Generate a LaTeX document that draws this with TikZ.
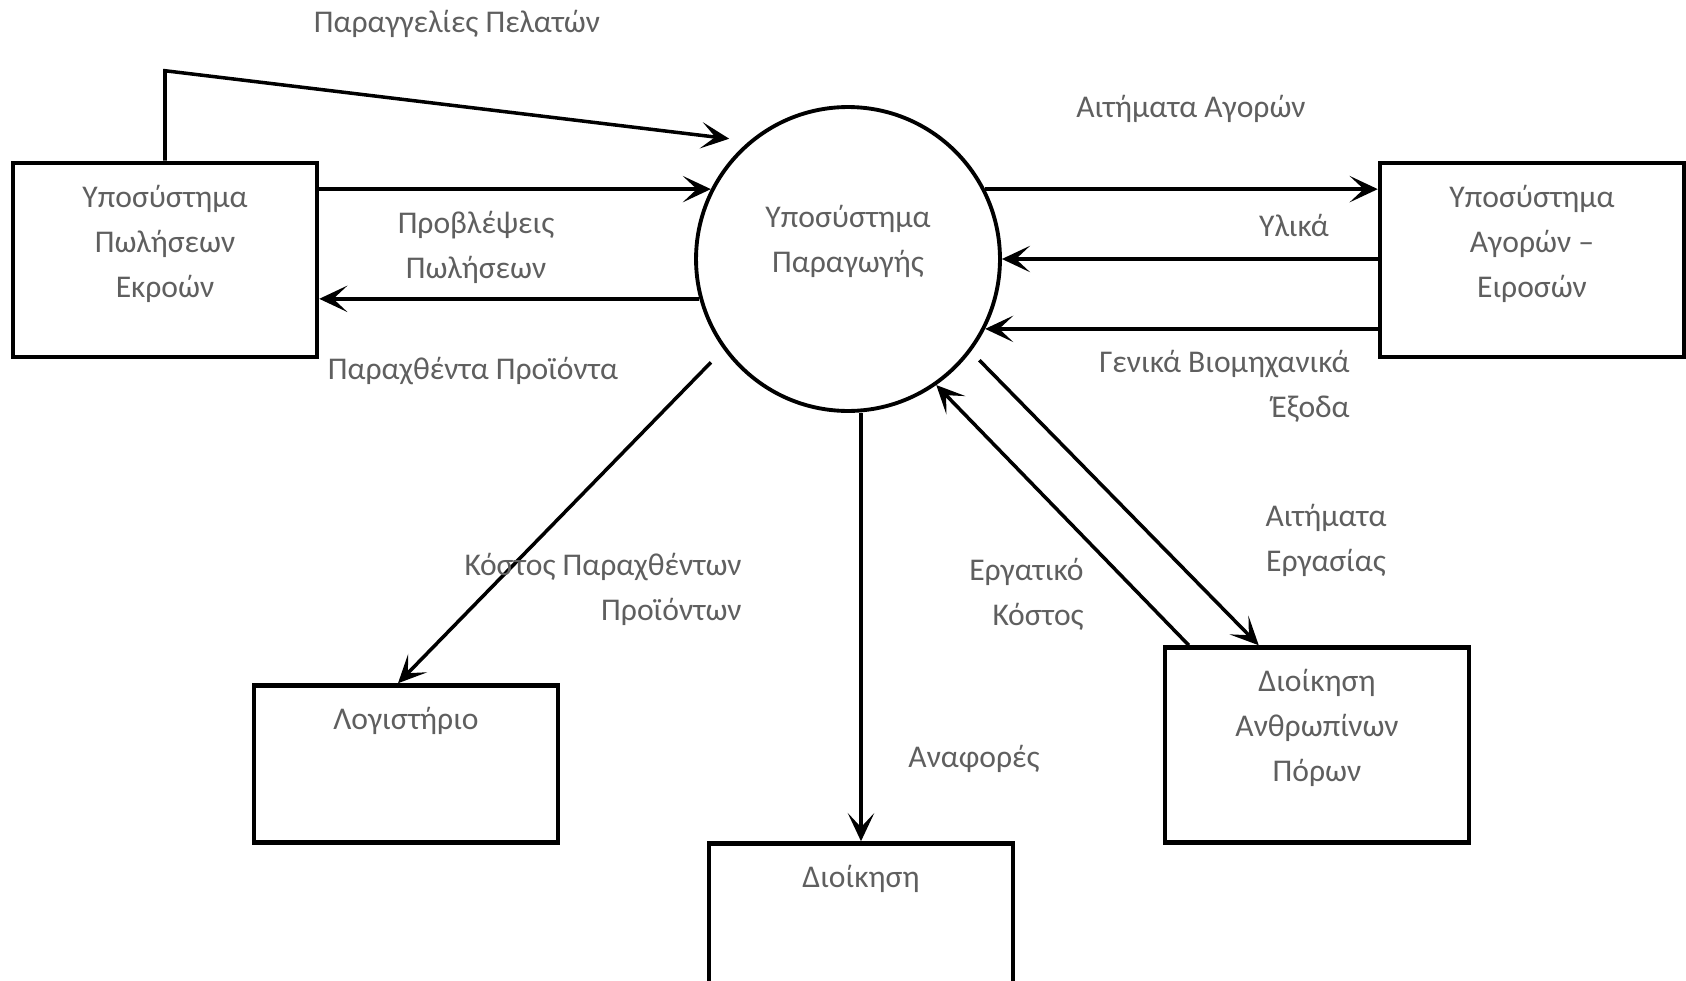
\documentclass[tikz,border=0pt]{standalone}
\usepackage{fontspec}
\setmainfont{Carlito}
\usetikzlibrary{positioning,arrows.meta}
\definecolor{labelgray}{RGB}{95,95,95}

\tikzset{
  box/.style={draw,line width=2.6pt,minimum width=6.08cm,inner sep=0pt},
  proc/.style={circle,draw,line width=2.2pt,minimum size=6.08cm,inner sep=0pt},
  txt/.style={text=labelgray,font=\fontsize{18}{25.6}\selectfont,align=center,inner sep=0pt},
  flow/.style={line width=2pt,-{Stealth[length=16pt,width=15pt,inset=8pt]}}
}

\begin{document}
\begin{tikzpicture}[x=0.02cm,y=-0.02cm]
\useasboundingbox (0,0) rectangle (1686,980);

% subsystems
\node[proc] (prod) at (848,259) {};
\node[box,minimum height=3.88cm] (sales) at (165,260) {};
\node[box,minimum height=3.88cm] (purch) at (1532,260) {};
\node[box,minimum height=3.14cm] (acc) at (406,764) {};
\node[box,minimum height=3.14cm] (mgmt) at (861,922) {};
\node[box,minimum height=3.9cm] (hr) at (1317,745) {};

\node[txt] (prodtext) at ([yshift=0.36cm]prod.center) {Υποσύστημα\\Παραγωγής};
\node[txt,below=0.48cm of sales.north] (salestext) {Υποσύστημα\\Πωλήσεων\\Εκροών};
\node[txt,below=0.48cm of purch.north] (purchtext) {Υποσύστημα\\Αγορών –\\Ειροσών};
\node[txt,below=0.48cm of acc.north] (acctext) {Λογιστήριο};
\node[txt,below=0.48cm of mgmt.north] (mgmttext) {Διοίκηση};
\node[txt,below=0.48cm of hr.north] (hrtext) {Διοίκηση\\Ανθρωπίνων\\Πόρων};

% flows
\draw[flow,shorten >=0.4cm] (sales.north) -- ++(0,-90) -- (prod.130);
\draw[flow] (prod.153 -| sales.east) -- (prod.153);
\draw[flow] (prod.195) -- (prod.195 -| sales.east);
\draw[flow] (prod.27) -- (prod.27 -| purch.west);
\draw[flow] (purch.west |- prod.east) -- (prod.east);
\draw[flow] (prod.-27 -| purch.west) -- (prod.-27);
\draw[flow,shorten <=0.36cm] (prod.216) -- ([xshift=-0.16cm]acc.north);
\draw[flow] (prod.south -| mgmt.north) -- (mgmt.north);
\draw[flow] ([xshift=0.52cm]hr.north west) -- (prod.-55);
\draw[flow,shorten <=0.24cm] (prod.-37) -- ([xshift=1.92cm]hr.north west);

% labels
\node[txt] (lorders) at (457,24) {Παραγγελίες Πελατών};
\node[txt] (lforecast) at (476,247) {Προβλέψεις\\Πωλήσεων};
\node[txt] (lproducts) at (473,371) {Παραχθέντα Προϊόντα};
\node[txt] (lpurchreq) at (1191,109) {Αιτήματα Αγορών};
\node[txt] (lmaterials) at (1294,225) {Υλικά};
\node[txt,anchor=east,align=right] (loverhead) at (1350,386) {Γενικά Βιομηχανικά\\Έξοδα};
\node[txt,anchor=east,align=right] (lcost) at (742,589) {Κόστος Παραχθέντων\\Προϊόντων};
\node[txt] (lreports) at (974,759) {Αναφορές};
\node[txt,anchor=east,align=right] (llabour) at (1084,594) {Εργατικό\\Κόστος};
\node[txt] (lworkreq) at (1326,540) {Αιτήματα\\Εργασίας};
\end{tikzpicture}
\end{document}
